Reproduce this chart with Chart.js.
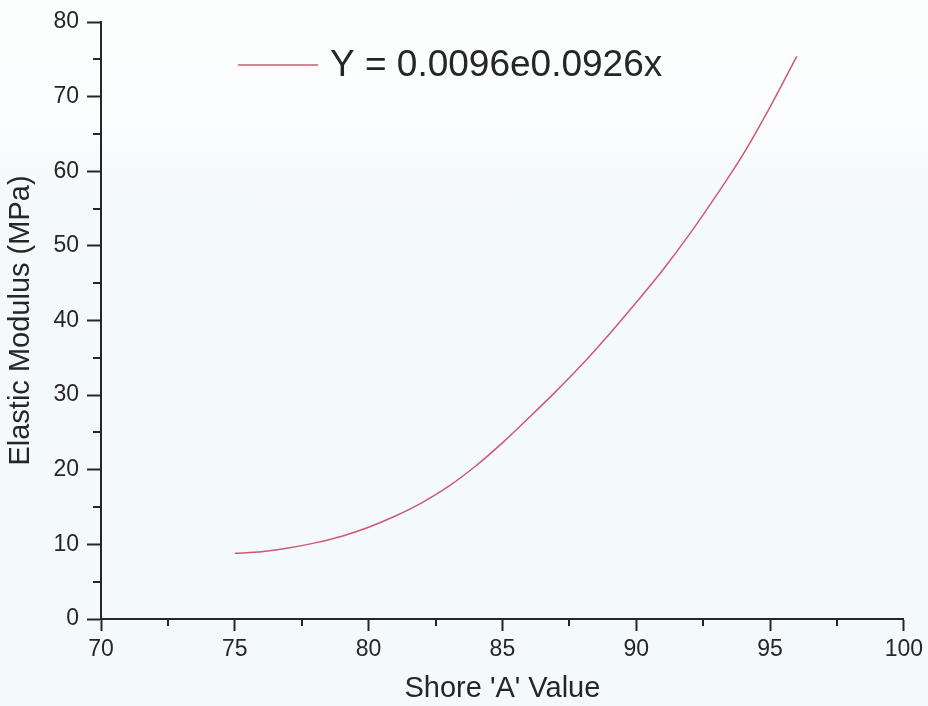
<!DOCTYPE html>
<html>
<head>
<meta charset="utf-8">
<script src="https://cdn.jsdelivr.net/npm/chart.js@4/dist/chart.umd.min.js"></script>
<style>
  html, body { margin: 0; padding: 0; background: #f6fbfc; }
  #wrap { width: 928px; height: 706px; position: relative; background: linear-gradient(#fcfefe 0px, #fbfdfe 120px, #f4f9fb 200px, #f4f9fb 100%); }
</style>
</head>
<body>
<div id="wrap"><canvas id="c" width="928" height="706"></canvas></div>
<script>
// ---- data ----
const shoreA = [75, 76, 77, 78, 79, 80, 81, 82, 83, 84, 85, 86, 87, 88, 89, 90, 91, 92, 93, 94, 95, 96];
const modulus = [8.8, 9.0, 9.5, 10.2, 11.1, 12.3, 13.8, 15.6, 17.8, 20.5, 23.6, 27.0, 30.5, 34.2, 38.2, 42.4, 46.8, 51.6, 56.8, 62.3, 68.6, 75.4];
const seriesLabel = "Y = 0.0096e0.0926x";
const xTitle = "Shore 'A' Value";
const yTitle = "Elastic Modulus (MPa)";
const xMinorTicks = [72.5, 77.5, 82.5, 87.5, 92.5, 97.5];
const yMinorTicks = [5, 15, 25, 35, 45, 55, 65, 75];

const LINE = '#cc5a73';
const INK = '#262626';
const FONT = "'Liberation Sans', Arial, sans-serif";

const minorTicks = {
  id: 'minorTicks',
  afterDraw(chart) {
    const ctx = chart.ctx, xs = chart.scales.x, ys = chart.scales.y;
    const a = chart.chartArea;
    ctx.save();
    ctx.strokeStyle = INK;
    ctx.lineWidth = 2;
    ctx.beginPath();
    xMinorTicks.forEach(v => {
      const p = Math.round(xs.getPixelForValue(v));
      ctx.moveTo(p, a.bottom); ctx.lineTo(p, a.bottom + 7);
    });
    yMinorTicks.forEach(v => {
      const p = Math.round(ys.getPixelForValue(v));
      ctx.moveTo(a.left, p); ctx.lineTo(a.left - 8, p);
    });
    ctx.stroke();
    ctx.restore();
  }
};

const insideLegend = {
  id: 'insideLegend',
  afterDraw(chart) {
    const ctx = chart.ctx, ds = chart.data.datasets[0];
    const x0 = 238, x1 = 318, y = 65;
    ctx.save();
    ctx.strokeStyle = ds.borderColor;
    ctx.lineWidth = 1.5;
    ctx.beginPath(); ctx.moveTo(x0, y); ctx.lineTo(x1, y); ctx.stroke();
    ctx.fillStyle = INK;
    ctx.font = "37px " + FONT;
    ctx.textBaseline = 'middle';
    ctx.textAlign = 'left';
    ctx.fillText(ds.label, 330, y + 1);
    ctx.restore();
  }
};

new Chart(document.getElementById('c'), {
  type: 'line',
  data: {
    datasets: [{
      label: seriesLabel,
      data: shoreA.map((x, i) => ({ x: x, y: modulus[i] })),
      borderColor: LINE,
      backgroundColor: LINE,
      borderWidth: 1.5,
      pointRadius: 0,
      cubicInterpolationMode: 'monotone',
      fill: false
    }]
  },
  options: {
    responsive: false,
    animation: false,
    devicePixelRatio: 1,
    layout: { padding: { top: 22, right: 18, left: 0, bottom: 0 } },
    plugins: {
      legend: { display: false },
      tooltip: { enabled: false }
    },
    scales: {
      x: {
        type: 'linear',
        min: 70, max: 100,
        ticks: { stepSize: 5, color: INK, font: { family: FONT, size: 23 }, padding: 5, maxRotation: 0 },
        grid: { drawOnChartArea: false, drawTicks: true, tickLength: 12, tickColor: INK, tickWidth: 2 },
        border: { display: true, color: INK, width: 2 },
        title: { display: true, text: xTitle, color: INK, font: { family: FONT, size: 29 }, padding: { top: 0, bottom: 0 } },
        afterFit(scale) { scale.height = 87; }
      },
      y: {
        type: 'linear',
        min: 0, max: 80,
        ticks: { stepSize: 10, color: INK, font: { family: FONT, size: 23 }, padding: 8 },
        grid: { drawOnChartArea: false, drawTicks: true, tickLength: 14, tickColor: INK, tickWidth: 2 },
        border: { display: true, color: INK, width: 2 },
        title: { display: true, text: yTitle, color: INK, font: { family: FONT, size: 29 }, padding: { top: 4, bottom: 0 } },
        afterFit(scale) { scale.width = 101; }
      }
    }
  },
  plugins: [minorTicks, insideLegend]
});
</script>
</body>
</html>
